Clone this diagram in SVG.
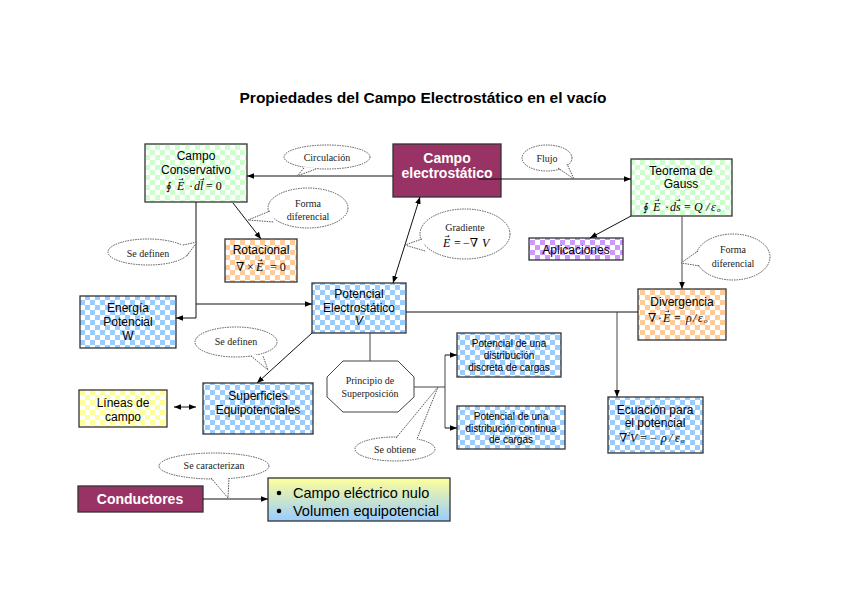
<svg xmlns="http://www.w3.org/2000/svg" width="848" height="599" viewBox="0 0 848 599">
<defs>
<pattern id="pg" width="10" height="10" patternUnits="userSpaceOnUse"><rect width="10" height="10" fill="#fff"/><rect width="5" height="5" fill="#ccffcc"/><rect x="5" y="5" width="5" height="5" fill="#ccffcc"/></pattern>
<pattern id="pb" width="10" height="10" patternUnits="userSpaceOnUse"><rect width="10" height="10" fill="#fff"/><rect width="5" height="5" fill="#99ccff"/><rect x="5" y="5" width="5" height="5" fill="#99ccff"/></pattern>
<pattern id="po" width="10" height="10" patternUnits="userSpaceOnUse"><rect width="10" height="10" fill="#fff"/><rect width="5" height="5" fill="#ffcc99"/><rect x="5" y="5" width="5" height="5" fill="#ffcc99"/></pattern>
<pattern id="pp" width="10" height="10" patternUnits="userSpaceOnUse"><rect width="10" height="10" fill="#fff"/><rect width="5" height="5" fill="#cc99ff"/><rect x="5" y="5" width="5" height="5" fill="#cc99ff"/></pattern>
<pattern id="py" width="10" height="10" patternUnits="userSpaceOnUse"><rect width="10" height="10" fill="#fff"/><rect width="5" height="5" fill="#ffff99"/><rect x="5" y="5" width="5" height="5" fill="#ffff99"/></pattern>
<linearGradient id="lg" x1="0" y1="0" x2="0" y2="1"><stop offset="0" stop-color="#ffff99"/><stop offset="1" stop-color="#99ccff"/></linearGradient>
<marker id="ah" viewBox="0 0 10 10" refX="10" refY="5" markerWidth="7" markerHeight="7" markerUnits="userSpaceOnUse" orient="auto-start-reverse"><path d="M0,1 L10,5 L0,9 z" fill="#000"/></marker>
</defs>
<style>
.box{stroke:#333;stroke-width:1.3}
.t{font-family:"Liberation Sans",Arial,sans-serif;font-size:12px;fill:#000;text-anchor:middle;dominant-baseline:central}
.ts{font-family:"Liberation Sans",Arial,sans-serif;font-size:10px;fill:#000;text-anchor:middle;dominant-baseline:central}
.tw{font-family:"Liberation Sans",Arial,sans-serif;font-size:14px;font-weight:bold;fill:#fff;text-anchor:middle;dominant-baseline:central}
.f{font-family:"Liberation Serif","DejaVu Serif",serif;font-size:12px;fill:#000;dominant-baseline:central}
.i{font-style:italic}
.int{font-family:"DejaVu Serif",serif;font-size:11px}
.sub{font-size:7px}
.va{font-family:"DejaVu Sans",sans-serif;font-size:6px;fill:#000;text-anchor:middle;dominant-baseline:central}
.c{font-family:"Liberation Serif","Times New Roman",serif;font-size:10px;fill:#222;text-anchor:middle;dominant-baseline:central}
.ce{fill:#fff;stroke:#555;stroke-width:1;stroke-dasharray:1.5 1}
.ct{fill:#fff;stroke:none}
.cl{fill:none;stroke:#555;stroke-width:1;stroke-dasharray:1.5 1}
.ln{fill:none;stroke:#111;stroke-width:1}
.gl{fill:none;stroke:#444;stroke-width:1}
</style>
<rect width="848" height="599" fill="#fff"/>
<text x="423" y="97" font-family="Liberation Sans,Arial,sans-serif" font-size="15.5" font-weight="bold" text-anchor="middle" dominant-baseline="central">Propiedades del Campo Electrostático en el vacío</text>

<g id="campo-conservativo">
<rect class="box" x="145" y="144" width="102" height="58" fill="url(#pg)"/>
<text class="t" x="196" y="156">Campo</text>
<text class="t" x="196" y="170">Conservativo</text>
<text class="f" y="186"><tspan class="int" x="166">∮</tspan><tspan class="i" x="177">E</tspan><tspan x="189">·</tspan><tspan class="i" x="194">dl</tspan><tspan x="206">= 0</tspan></text>
<text class="va" x="181" y="178">→</text>
<text class="va" x="202" y="178">→</text>
</g>
<g id="campo-electrostatico">
<rect class="box" x="393" y="144" width="108" height="53" fill="#993366"/>
<text class="tw" x="447" y="158">Campo</text>
<text class="tw" x="447" y="173">electrostático</text>
</g>
<g id="teorema-gauss">
<rect class="box" x="631" y="159" width="101" height="57" fill="url(#pg)"/>
<text class="t" x="681" y="171">Teorema de</text>
<text class="t" x="681" y="184">Gauss</text>
<text class="f" y="207"><tspan class="int" x="643">∮</tspan><tspan class="i" x="653">E</tspan><tspan x="665">·</tspan><tspan class="i" x="670">ds</tspan><tspan x="684">=</tspan><tspan class="i" x="694">Q</tspan><tspan class="i" x="706">/</tspan><tspan class="i" x="711">ε</tspan><tspan class="sub i" x="717" dy="3">o</tspan></text>
<text class="va" x="657" y="199">→</text>
<text class="va" x="678" y="199">→</text>
</g>
<g id="rotacional">
<rect class="box" x="225" y="239" width="72" height="43" fill="url(#po)"/>
<text class="t" x="261" y="250">Rotacional</text>
<text class="f" y="267"><tspan x="236">∇</tspan><tspan x="247">×</tspan><tspan class="i" x="256">E</tspan><tspan x="270">= 0</tspan></text>
<text class="va" x="260" y="259">→</text>
</g>
<g id="aplicaciones">
<rect class="box" x="529" y="238" width="94" height="22" fill="url(#pp)"/>
<text class="t" x="576" y="250">Aplicaciones</text>
</g>
<g id="energia-potencial">
<rect class="box" x="80" y="296" width="96" height="52" fill="url(#pb)"/>
<text class="t" x="128" y="308">Energía</text>
<text class="t" x="128" y="322">Potencial</text>
<text class="t" x="128" y="336">W</text>
</g>
<g id="potencial-electrostatico">
<rect class="box" x="312" y="283" width="94" height="50" fill="url(#pb)"/>
<text class="t" x="359" y="294">Potencial</text>
<text class="t" x="359" y="308">Electrostático</text>
<text class="t" x="359" y="321" font-style="italic">V</text>
</g>
<g id="divergencia">
<rect class="box" x="638" y="289" width="88" height="51" fill="url(#po)"/>
<text class="t" x="682" y="302">Divergencia</text>
<text class="f" y="318"><tspan x="648">∇</tspan><tspan x="658">·</tspan><tspan class="i" x="663">E</tspan><tspan x="674">=</tspan><tspan class="i" x="686">ρ</tspan><tspan class="i" x="693">/</tspan><tspan class="i" x="698">ε</tspan><tspan class="sub i" x="704" dy="3">o</tspan></text>
<text class="va" x="667" y="310">→</text>
</g>
<g id="principio-superposicion">
<polygon points="343,361 398,361 414,377 414,397 398,412 343,412 327,397 327,377" fill="#fff" stroke="#444" stroke-width="1"/>
<text class="c" x="370" y="380">Principio de</text>
<text class="c" x="370" y="393">Superposición</text>
</g>
<g id="potencial-discreta">
<rect class="box" x="457" y="333" width="104" height="44" fill="url(#pb)"/>
<text class="ts" x="509" y="343">Potencial de una</text>
<text class="ts" x="509" y="355">distribución</text>
<text class="ts" x="509" y="367">discreta de cargas</text>
</g>
<g id="potencial-continua">
<rect class="box" x="457" y="406" width="108" height="43" fill="url(#pb)"/>
<text class="ts" x="511" y="416">Potencial de una</text>
<text class="ts" x="511" y="428">distribución continua</text>
<text class="ts" x="511" y="439">de cargas</text>
</g>
<g id="ecuacion-potencial">
<rect class="box" x="608" y="397" width="95" height="56" fill="url(#pb)"/>
<text class="t" x="655" y="410">Ecuación para</text>
<text class="t" x="655" y="423">el potencial</text>
<text class="f" y="438"><tspan x="619">∇</tspan><tspan class="sub" x="627" dy="-4">2</tspan><tspan class="i" x="630" dy="4">V</tspan><tspan x="640">=</tspan><tspan x="650">−</tspan><tspan class="i" x="661">ρ</tspan><tspan class="i" x="669">/</tspan><tspan class="i" x="675">ε</tspan><tspan class="sub i" x="681" dy="3">o</tspan></text>
</g>
<g id="lineas-campo">
<rect class="box" x="79" y="390" width="88" height="37" fill="url(#py)"/>
<text class="t" x="123" y="403">Líneas de</text>
<text class="t" x="123" y="417">campo</text>
</g>
<g id="superficies">
<rect class="box" x="203" y="383" width="110" height="51" fill="url(#pb)"/>
<text class="t" x="258" y="396">Superficies</text>
<text class="t" x="258" y="410">Equipotenciales</text>
</g>
<g id="conductores">
<rect class="box" x="78" y="486" width="125" height="26" fill="#993366"/>
<text class="tw" x="140" y="499">Conductores</text>
</g>
<g id="propiedades-conductores">
<rect class="box" x="268" y="478" width="182" height="43" fill="url(#lg)"/>
<circle cx="279" cy="493" r="2.3" fill="#000"/>
<circle cx="279" cy="511" r="2.3" fill="#000"/>
<text x="293" y="493" font-family="Liberation Sans,Arial,sans-serif" font-size="14.5" dominant-baseline="central">Campo eléctrico nulo</text>
<text x="293" y="511" font-family="Liberation Sans,Arial,sans-serif" font-size="14.5" dominant-baseline="central">Volumen equipotencial</text>
</g>

<g id="connectors">
<path class="ln" d="M393,176 L247,176" marker-end="url(#ah)"/>
<path class="ln" d="M478,179 L631,179" marker-end="url(#ah)"/>
<path class="ln" d="M233,203 L261,239" marker-end="url(#ah)"/>
<path class="ln" d="M196,202 L196,318 L176,318" marker-end="url(#ah)"/>
<path class="ln" d="M196,304 L312,304" marker-end="url(#ah)"/>
<path class="ln" d="M393,283 L420,197" marker-start="url(#ah)" marker-end="url(#ah)"/>
<path class="ln" d="M631,216 L590,238" marker-end="url(#ah)"/>
<path class="gl" d="M682,216 L682,289" marker-end="url(#ah)"/>
<path class="ln" d="M406,312 L638,312"/>
<path class="gl" d="M617,312 L617,397" marker-end="url(#ah)"/>
<path class="gl" d="M370,333 L370,361"/>
<path class="gl" d="M414,387 L445,387 M445,355 L445,428"/>
<path class="ln" d="M445,355 L457,355" marker-end="url(#ah)"/>
<path class="ln" d="M445,428 L457,428" marker-end="url(#ah)"/>
<path class="ln" d="M312,333 L257,383" marker-end="url(#ah)"/>
<path class="ln" d="M174,407 L196,407" marker-start="url(#ah)" marker-end="url(#ah)"/>
<path class="ln" d="M203,499 L268,499" marker-end="url(#ah)"/>
</g>

<g id="callouts">
<g id="c-circulacion">
<ellipse class="ce" cx="327" cy="157" rx="43" ry="12"/>
<polygon class="ct" points="304,167 297,176 316,168"/>
<path class="cl" d="M304,168 L297,176 L316,169"/>
<text class="c" x="327" y="157">Circulación</text>
</g>
<g id="c-flujo">
<ellipse class="ce" cx="547" cy="158" rx="25" ry="13"/>
<polygon class="ct" points="558,167 574,179 566,163"/>
<path class="cl" d="M558,168 L574,179 L567,164"/>
<text class="c" x="547" y="158">Flujo</text>
</g>
<g id="c-forma-izq">
<ellipse class="ce" cx="308" cy="208" rx="40" ry="20"/>
<polygon class="ct" points="271,211 248,220 275,221"/>
<path class="cl" d="M270,211 L248,220 L274,222"/>
<text class="c" x="308" y="203">Forma</text>
<text class="c" x="308" y="216">diferencial</text>
</g>
<g id="c-definen-izq">
<ellipse class="ce" cx="148" cy="252" rx="40" ry="13"/>
<polygon class="ct" points="182,245 197,242 185,257"/>
<path class="cl" d="M183,245 L197,242 L186,257"/>
<text class="c" x="148" y="253">Se definen</text>
</g>
<g id="c-gradiente">
<ellipse class="ce" cx="465" cy="234" rx="45" ry="25"/>
<polygon class="ct" points="423,239 405,245 426,251"/>
<path class="cl" d="M422,239 L405,245 L425,251"/>
<text class="c" x="465" y="227">Gradiente</text>
<text class="f" y="243" font-size="11"><tspan class="i" x="443">E</tspan><tspan x="454">=</tspan><tspan x="463">−∇</tspan><tspan class="i" x="482">V</tspan></text>
<text class="va" x="447" y="235">→</text>
</g>
<g id="c-forma-der">
<ellipse class="ce" cx="733" cy="257" rx="37" ry="23"/>
<polygon class="ct" points="699,251 681,263 701,265"/>
<path class="cl" d="M698,251 L681,263 L700,266"/>
<text class="c" x="733" y="249">Forma</text>
<text class="c" x="733" y="263">diferencial</text>
</g>
<g id="c-definen-mid">
<ellipse class="ce" cx="236" cy="342" rx="41" ry="15"/>
<polygon class="ct" points="251,355 268,370 262,355"/>
<path class="cl" d="M251,356 L268,370 L263,356"/>
<text class="c" x="236" y="341">Se definen</text>
</g>
<g id="c-obtiene">
<ellipse class="ce" cx="395" cy="449" rx="40" ry="12"/>
<polygon class="ct" points="396,439 438,387 417,440"/>
<path class="cl" d="M396,438 L438,387 L417,439"/>
<text class="c" x="395" y="449">Se obtiene</text>
</g>
<g id="c-caracterizan">
<ellipse class="ce" cx="214" cy="466" rx="55" ry="13"/>
<polygon class="ct" points="211,477 228,498 229,477"/>
<path class="cl" d="M211,478 L228,498 L229,478"/>
<text class="c" x="214" y="465">Se caracterizan</text>
</g>
</g>
</svg>
